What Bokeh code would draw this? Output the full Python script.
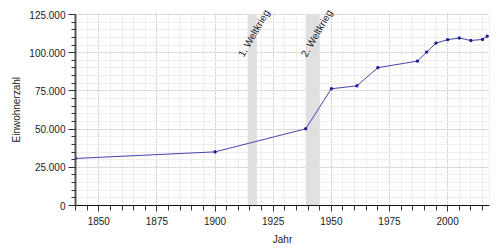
import math
from bokeh.plotting import figure
from bokeh.models import (SingleIntervalTicker, CustomJSTickFormatter, BoxAnnotation,
                          Label, Range1d, Title)
from bokeh.embed import file_html
from bokeh.resources import INLINE

# ---- data ----
years = [1840, 1900, 1939, 1950, 1961, 1970, 1987, 1991, 1995, 2000, 2005, 2010, 2015, 2017]
population = [30800, 35100, 50200, 76400, 78300, 90200, 94500, 100400, 106300, 108500,
              109600, 108000, 108700, 110800]
war_names = ["1. Weltkrieg", "2. Weltkrieg"]
war_start = [1914, 1939]
war_end = [1918, 1945]
x_label = "Jahr"
y_label = "Einwohnerzahl"

X_START, X_END = 1840, 2018
Y_MAX = 125000
FONT = "Liberation Sans"

# frame extends above the value axis so the rotated labels are not clipped
TOP_BORDER = 4
FRAME_TOP_PX = 14 - TOP_BORDER          # headroom in pixels above Y_MAX
PLOT_PX = 191                            # pixels from 0 to Y_MAX
y_end = Y_MAX * (PLOT_PX + FRAME_TOP_PX) / PLOT_PX
px_val = Y_MAX / PLOT_PX

p = figure(width=500, height=250, output_backend="svg", toolbar_location=None,
           x_range=Range1d(X_START, X_END), y_range=Range1d(0, y_end),
           min_border_left=75, min_border_right=11, min_border_top=TOP_BORDER,
           min_border_bottom=45,
           background_fill_color="white", border_fill_color="white")

p.outline_line_color = None

# war bands
for s, e in zip(war_start, war_end):
    p.add_layout(BoxAnnotation(left=s, right=e, top=Y_MAX, bottom=0, fill_color="#e0e0e0",
                               fill_alpha=1.0, line_color=None, level="underlay"))

# axes / ticks
p.xaxis.ticker = SingleIntervalTicker(interval=25, num_minor_ticks=5)
p.yaxis.ticker = SingleIntervalTicker(interval=25000, num_minor_ticks=5)
p.yaxis.bounds = (0, Y_MAX)
p.yaxis.formatter = CustomJSTickFormatter(
    code="return Math.round(tick).toString().replace(/\\B(?=(\\d{3})+(?!\\d))/g, '.');")

for ax in (p.xaxis, p.yaxis):
    ax.major_label_text_font = FONT
    ax.major_label_text_font_size = "10px"
    ax.major_label_text_color = "#222222"
    ax.axis_label_text_font = FONT
    ax.axis_label_text_font_size = "10px"
    ax.axis_label_text_font_style = "normal"
    ax.axis_label_text_color = "#222222"
    ax.major_tick_in = 0
    ax.minor_tick_in = 0
    ax.major_tick_line_color = "#333333"
    ax.minor_tick_line_color = "#333333"

p.xaxis.axis_label = x_label

# y label as a left-side title so it can be placed on the value range
p.add_layout(Title(text=y_label, align="left", offset=63, standoff=10,
                   text_font=FONT, text_font_size="10px", text_font_style="normal",
                   text_color="#222222"), "left")

p.xaxis.axis_line_color = "#111111"
p.xaxis.axis_line_width = 1.2
p.xaxis.major_tick_out = 6
p.xaxis.minor_tick_out = 5
p.xaxis.major_label_standoff = 5
p.xaxis.axis_label_standoff = 6

p.yaxis.axis_line_color = "#555555"
p.yaxis.axis_line_width = 2
p.yaxis.major_tick_out = 7
p.yaxis.minor_tick_out = 4
p.yaxis.major_label_standoff = 3

# grids
p.xgrid.grid_line_color = "#bbbbbb"
p.xgrid.grid_line_dash = "1 2"
p.xgrid.minor_grid_line_color = "#eeeeee"
p.ygrid.grid_line_color = "#bbbbbb"
p.ygrid.grid_line_dash = "1 2"
p.ygrid.minor_grid_line_color = "#eeeeee"
p.ygrid.bounds = (0, Y_MAX)

# white cover over the headroom (hides vertical grid lines above Y_MAX)
p.add_layout(BoxAnnotation(bottom=Y_MAX + 1.5 * px_val, fill_color="white", fill_alpha=1.0,
                           line_color=None, level="annotation"))

# dotted right edge of the plot area
p.segment(x0=[X_END], y0=[0], x1=[X_END], y1=[Y_MAX], line_color="#bbbbbb",
          line_dash="1 2", line_width=1)

# war labels
for name, e in zip(war_names, war_end):
    p.add_layout(Label(x=e, y=Y_MAX, text=name, angle=math.radians(60),
                       x_offset=10, y_offset=4, text_align="right", text_baseline="middle",
                       text_font=FONT, text_font_size="10px", text_color="#222222"))

# data
p.line(years, population, line_color="#4444aa", line_width=1)
p.scatter(years, population, marker="square", size=2, fill_color="#1a1a90",
          line_color="#1a1a90")

open("out.html", "w").write(file_html(p, INLINE))
